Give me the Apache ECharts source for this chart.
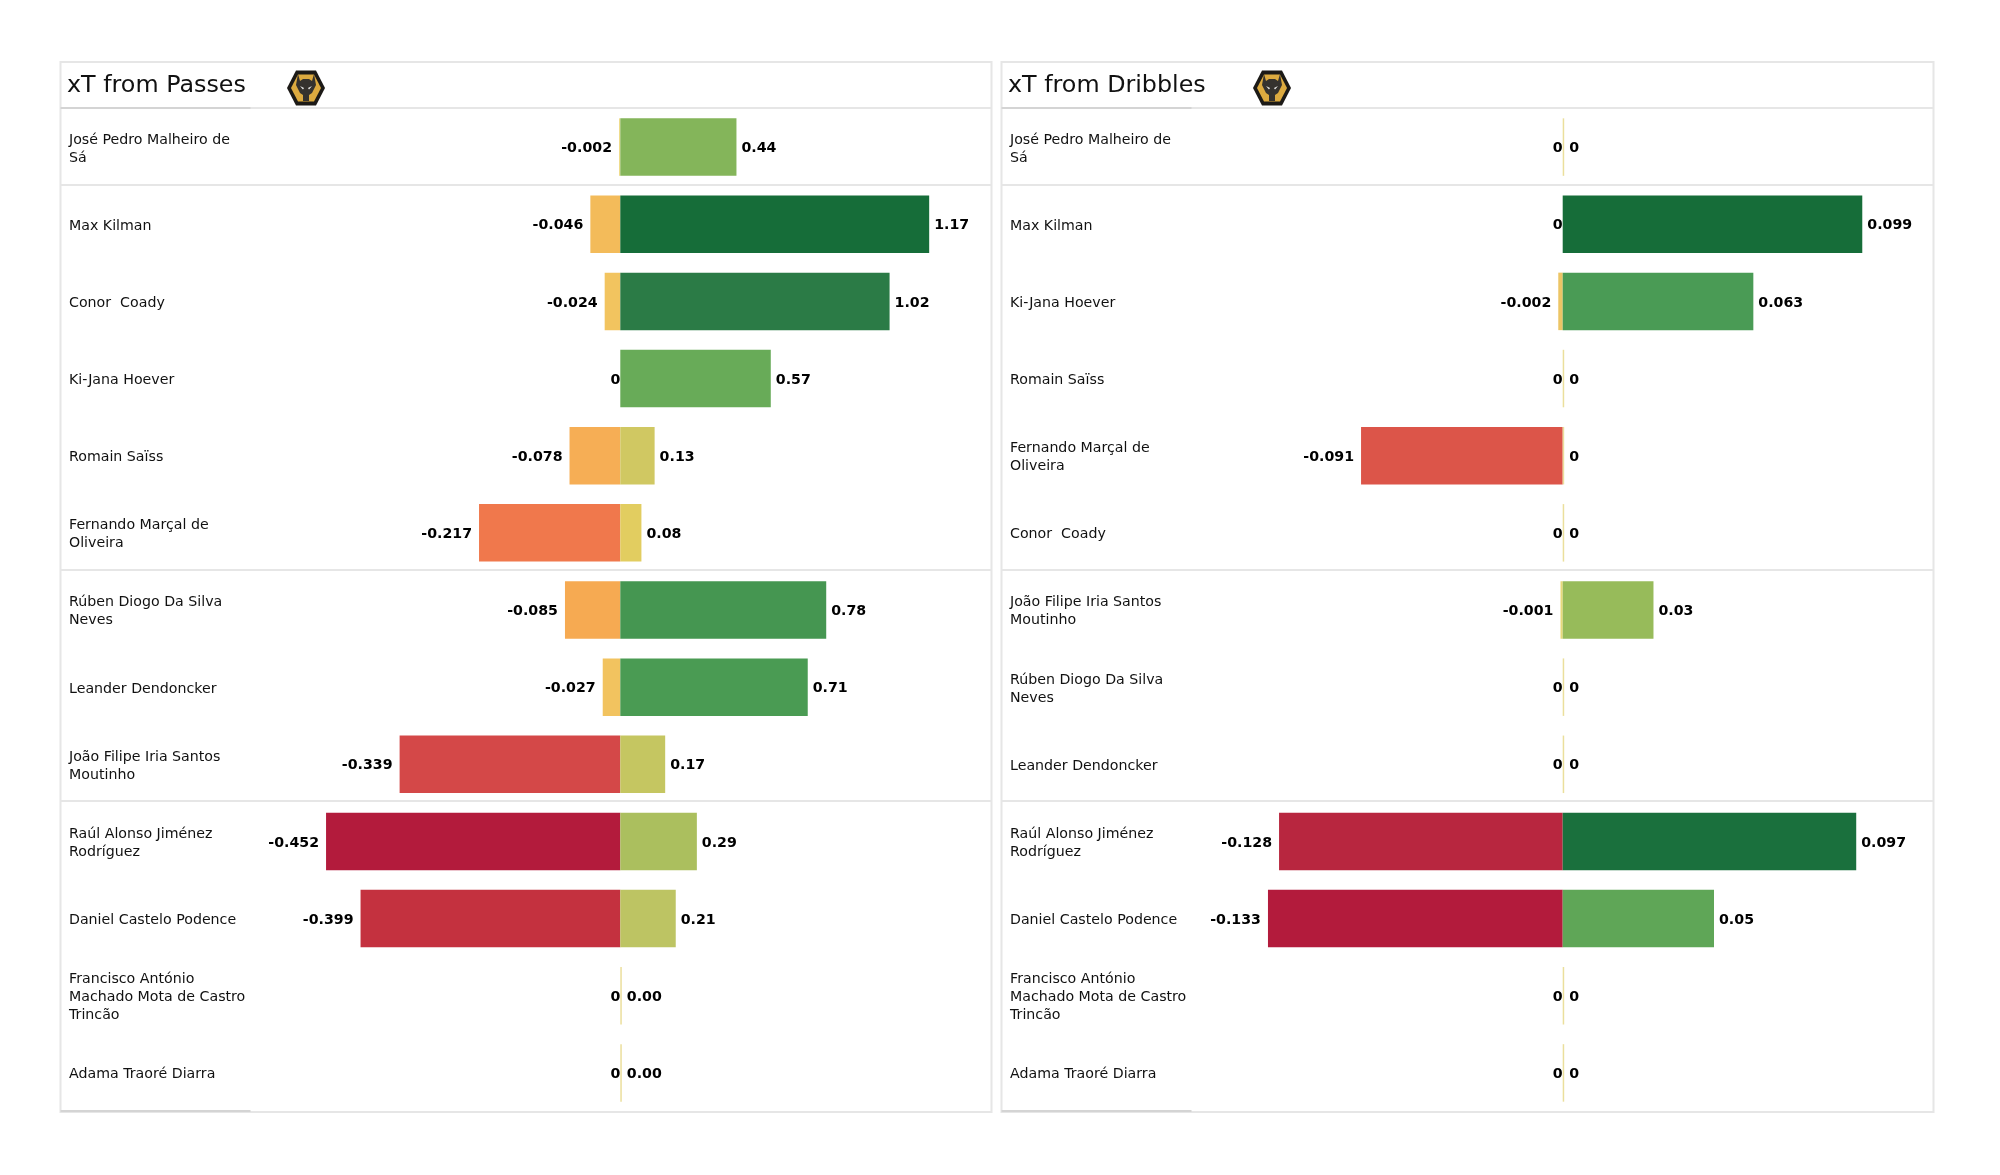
<!DOCTYPE html>
<html><head><meta charset="utf-8">
<style>html,body{margin:0;padding:0;background:#fff}#c{width:2000px;height:1175px}</style>
<script src="https://cdn.jsdelivr.net/npm/echarts@6/dist/echarts.min.js"></script>
</head><body><div id="c"></div>
<script>
const passPlayers = ["José Pedro Malheiro de\nSá","Max Kilman","Conor  Coady","Ki-Jana Hoever","Romain Saïss","Fernando Marçal de\nOliveira","Rúben Diogo Da Silva\nNeves","Leander Dendoncker","João Filipe Iria Santos\nMoutinho","Raúl Alonso Jiménez\nRodríguez","Daniel Castelo Podence","Francisco António\nMachado Mota de Castro\nTrincão","Adama Traoré Diarra"];
const passNeg = [-0.002,-0.046,-0.024,0,-0.078,-0.217,-0.085,-0.027,-0.339,-0.452,-0.399,0,0];
const passPos = [0.44,1.17,1.02,0.57,0.13,0.08,0.78,0.71,0.17,0.29,0.21,0,0];
const dribPlayers = ["José Pedro Malheiro de\nSá","Max Kilman","Ki-Jana Hoever","Romain Saïss","Fernando Marçal de\nOliveira","Conor  Coady","João Filipe Iria Santos\nMoutinho","Rúben Diogo Da Silva\nNeves","Leander Dendoncker","Raúl Alonso Jiménez\nRodríguez","Daniel Castelo Podence","Francisco António\nMachado Mota de Castro\nTrincão","Adama Traoré Diarra"];
const dribNeg = [0,0,-0.002,0,-0.091,0,-0.001,0,0,-0.128,-0.133,0,0];
const dribPos = [0,0.099,0.063,0,0,0,0.03,0,0,0.097,0.05,0,0];
const passNegColors = ["#efdc8c","#f3bb5a","#f2c45f","#efdc8c","#f6ae55","#f0784c","#f6aa52","#f2c35f","#d44848","#b31b3c","#c4313f","#efdc8c","#efdc8c"];
const passPosColors = ["#84b55a","#166d39","#2b7b46","#68ab58","#d0c862","#e2cd60","#459651","#4a9b53","#c5c661","#abbf5e","#bdc463","#ebdf9c","#ebdf9c"];
const dribNegColors = ["#efdc8c","#efdc8c","#ecc565","#efdc8c","#dc5549","#efdc8c","#e8d87a","#efdc8c","#efdc8c","#b8263f","#b31b3c","#efdc8c","#efdc8c"];
const dribPosColors = ["#ebdf9c","#166d39","#4a9b55","#ebdf9c","#ebdf9c","#ebdf9c","#97bb5a","#ebdf9c","#ebdf9c","#1a703d","#5fa657","#ebdf9c","#ebdf9c"];

const FONT = '"DejaVu Sans"';
const TOP = 108.5, BOTTOM = 1111.5, NAME_SHIFT = 1.8;
const panels = [
  {title:"xT from Passes", left:60.5, right:991.5, zero:620.3, negScale:651, posScale:264, logo:306, names:passPlayers, neg:passNeg, pos:passPos, nc:passNegColors, pc:passPosColors, fmt:v=>v===0?"0.00":String(v)},
  {title:"xT from Dribbles", left:1001.5, right:1933.5, zero:1562.7, negScale:2216, posScale:3026, logo:1272, names:dribPlayers, neg:dribNeg, pos:dribPos, nc:dribNegColors, pc:dribPosColors, fmt:v=>String(v)}
];
const grid=[],xAxis=[],yAxis=[],series=[],title=[],graphic=[];
const labelStyle={show:true,color:'#000',fontFamily:FONT,fontWeight:'bold',fontSize:14.2,offset:[0,1.5]};

function logo(cx){
  return {type:'group',x:cx,y:88,silent:true,children:[
    {type:'polygon',shape:{points:[[-19,0],[-10,-17.5],[10,-17.5],[19,0],[10,17.5],[-10,17.5]]},style:{fill:'#1c1a17'}},
    {type:'polygon',shape:{points:[[-15,0],[-8,-13.5],[8,-13.5],[15,0],[8,13.5],[-8,13.5]]},style:{fill:'#dcaa3f'}},
    {type:'polygon',shape:{points:[[-8,-14],[-6,-7],[-3,-9],[3,-9],[6,-7],[8,-14],[10,-3],[6,5],[3,7],[3,13],[-3,13],[-3,7],[-6,5],[-10,-3]]},style:{fill:'#35322e'}},
    {type:'polygon',shape:{points:[[-6,-2],[-2,0],[-3,1.5]]},style:{fill:'#eee'}},
    {type:'polygon',shape:{points:[[6,-2],[2,0],[3,1.5]]},style:{fill:'#eee'}}
  ]};
}

panels.forEach((p,i)=>{
  // grids 0,1 hold the bars; grids 2,3 hold only the player-name axis, set a touch lower
  grid[i]={left:p.left,width:p.right-p.left,top:TOP,height:BOTTOM-TOP};
  grid[i+2]={left:p.left,width:p.right-p.left,top:TOP+NAME_SHIFT,height:BOTTOM-TOP};
  const span=(s,g)=>({type:'value',gridIndex:g,show:false,min:-(p.zero-p.left)/s,max:(p.right-p.zero)/s,splitLine:{show:false}});
  xAxis[i*2]=span(p.negScale,i);
  xAxis[i*2+1]=span(p.posScale,i);
  xAxis[i+4]=span(p.posScale,i+2);
  yAxis[i]={type:'category',gridIndex:i,inverse:true,data:p.names,axisLine:{show:false},axisTick:{show:false},splitLine:{show:false},axisLabel:{show:false}};
  yAxis[i+2]={type:'category',gridIndex:i+2,inverse:true,data:p.names,axisLine:{show:false},axisTick:{show:false},splitLine:{show:false},
    axisLabel:{inside:true,align:'left',margin:8.5,color:'#111',fontFamily:FONT,fontSize:14.2,lineHeight:18,interval:0}};
  series.push({type:'bar',name:p.title+' negative',xAxisIndex:i*2,yAxisIndex:i,barWidth:57.5,barGap:'-100%',silent:true,
    data:p.neg.map((v,k)=>({value:v,itemStyle:{color:p.nc[k]},label:{...labelStyle,position:'left',distance:v===0?0:7,formatter:String(v)}}))});
  series.push({type:'bar',name:p.title+' positive',xAxisIndex:i*2+1,yAxisIndex:i,barWidth:57.5,barGap:'-100%',barMinHeight:1.5,silent:true,
    data:p.pos.map((v,k)=>({value:v,itemStyle:{color:p.pc[k]},label:{...labelStyle,position:'right',distance:5,formatter:p.fmt(v)}}))});
  title.push({text:p.title,left:p.left+6.5,top:73.5,padding:0,textStyle:{fontFamily:FONT,fontWeight:'normal',fontSize:23.8,color:'#111'}});

  graphic.push({type:'rect',silent:true,z:-1,shape:{x:p.left,y:62,width:p.right-p.left,height:1050},style:{fill:'none',stroke:'#e6e6e6',lineWidth:2}});
  [108,185,570,801].forEach(y=>graphic.push({type:'line',silent:true,z:-1,shape:{x1:p.left,y1:y,x2:p.right,y2:y},style:{stroke:'#e6e6e6',lineWidth:2}}));
  [108,1111].forEach(y=>graphic.push({type:'line',silent:true,z:-1,shape:{x1:p.left,y1:y,x2:p.left+190,y2:y},style:{stroke:'#d4d4d4',lineWidth:2}}));
  graphic.push(logo(p.logo));
});

const chart=echarts.init(document.getElementById('c'),null,{renderer:'canvas'});
chart.setOption({animation:false,backgroundColor:'#fff',title,grid,xAxis,yAxis,series,graphic});
</script></body></html>
